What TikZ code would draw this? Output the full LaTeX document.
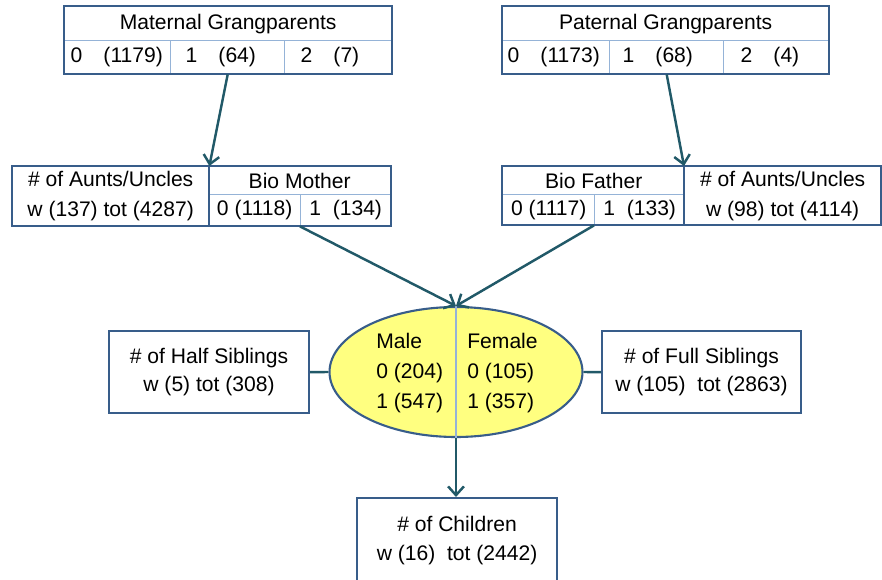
\documentclass[tikz,border=0pt]{standalone}
\usepackage{fontspec}
\setmainfont{Liberation Sans}
\usetikzlibrary{arrows.meta,shapes.geometric}
\definecolor{framblue}{RGB}{56,93,138}
\definecolor{gridblue}{RGB}{149,179,215}
\definecolor{arrteal}{RGB}{33,89,104}
\definecolor{eggyellow}{RGB}{255,255,128}

\begin{document}
\begin{tikzpicture}[x=0.02cm,y=-0.02cm,
    cell/.style={draw=gridblue,line width=0.8pt,anchor=north west,inner sep=0pt,
                 align=center,font=\fontsize{12}{17}\selectfont},
    lcell/.style={cell,align=left,minimum height=0.66cm},
    frame/.style={draw=framblue,line width=1.2pt},
    txt/.style={inner sep=0pt,align=left,font=\fontsize{12}{17}\selectfont},
    arr/.style={-{Straight Barb[length=5pt,width=9pt]},line width=1.4pt,arrteal},
    link/.style={line width=1.4pt,arrteal}
  ]
    \useasboundingbox (0,0) rectangle (882,579);

    % grandparents
    \node[cell,minimum width=6.54cm,minimum height=0.68cm] (matT) at (64,6) {Maternal Grangparents};
    \node[lcell,text width=1.88cm,inner xsep=0.12cm] (mat0) at (64,40) {0~~~(1179)};
    \node[lcell,text width=1.68cm,inner xsep=0.30cm] (mat1) at (170,40) {1~~~(64)};
    \node[lcell,text width=1.50cm,inner xsep=0.32cm] (mat2) at (284,40) {2~~~(7)};
    \draw[frame] (matT.north west) rectangle (mat2.south east);

    \node[cell,minimum width=6.52cm,minimum height=0.68cm] (patT) at (502,6) {Paternal Grangparents};
    \node[lcell,text width=1.94cm,inner xsep=0.10cm] (pat0) at (502,40) {0~~~(1173)};
    \node[lcell,text width=1.76cm,inner xsep=0.26cm] (pat1) at (609,40) {1~~~(68)};
    \node[lcell,text width=1.42cm,inner xsep=0.34cm] (pat2) at (723,40) {2~~~(4)};
    \draw[frame] (patT.north west) rectangle (pat2.south east);

    % parents
    \node[cell,minimum width=3.92cm,minimum height=1.18cm] (maunts) at (12,166) {\# of Aunts/Uncles\\w (137) tot (4287)};
    \node[cell,minimum width=3.64cm,minimum height=0.56cm] (momT) at (208,166) {Bio Mother};
    \node[cell,minimum width=1.84cm,minimum height=0.62cm] (mom0) at (208,194) {0 (1118)};
    \node[cell,minimum width=1.80cm,minimum height=0.62cm] (mom1) at (300,194) {1~~(134)};
    \draw[frame] (maunts.north west) rectangle (mom1.south east);
    \draw[frame] (maunts.north east) -- (maunts.south east);

    \node[cell,minimum width=3.64cm,minimum height=0.56cm] (faT) at (502,166) {Bio Father};
    \node[cell,minimum width=1.84cm,minimum height=0.60cm] (fa0) at (502,194) {0 (1117)};
    \node[cell,minimum width=1.80cm,minimum height=0.60cm] (fa1) at (594,194) {1~~(133)};
    \node[cell,minimum width=3.92cm,minimum height=1.16cm] (paunts) at (684,166) {\# of Aunts/Uncles\\w (98) tot (4114)};
    \draw[frame] (faT.north west) rectangle (paunts.south east);
    \draw[frame] (paunts.north west) -- (paunts.south west);

    % child in the middle
    \node[ellipse,draw=framblue,fill=eggyellow,line width=1.2pt,inner sep=0pt,
          minimum width=5.06cm,minimum height=2.6cm] (kid) at (456,372) {};
    \draw[gridblue,line width=0.8pt] (kid.north) -- (kid.south);
    \node[txt,anchor=west] (male) at (376,373) {Male\\0 (204)\\1 (547)};
    \node[txt,anchor=west] (female) at (467,373) {Female\\0 (105)\\1 (357)};

    \node[cell,frame,minimum width=4cm,minimum height=1.64cm,font=\fontsize{12}{16}\selectfont] (half) at (108,330) {\# of Half Siblings\\w (5) tot (308)};
    \node[cell,frame,minimum width=3.98cm,minimum height=1.64cm,font=\fontsize{12}{16}\selectfont] (full) at (601,330) {\# of Full Siblings\\w (105)~~tot (2863)};
    \node[cell,frame,minimum width=4cm,minimum height=1.7cm,font=\fontsize{12}{16}\selectfont] (child) at (356,497) {\# of Children\\w (16)~~tot (2442)};

    \draw[arr] (mat1.south) -- (maunts.north east);
    \draw[arr] (pat1.south) -- (paunts.north west);
    \draw[arr] (mom1.south west) -- (kid.north);
    \draw[arr] (fa1.south west) -- (kid.north);
    \draw[arr] (kid.south) -- (kid.south |- child.north);
    \draw[link] (half.east) -- (kid.west);
    \draw[link] (kid.east) -- (full.west);
\end{tikzpicture}
\end{document}
